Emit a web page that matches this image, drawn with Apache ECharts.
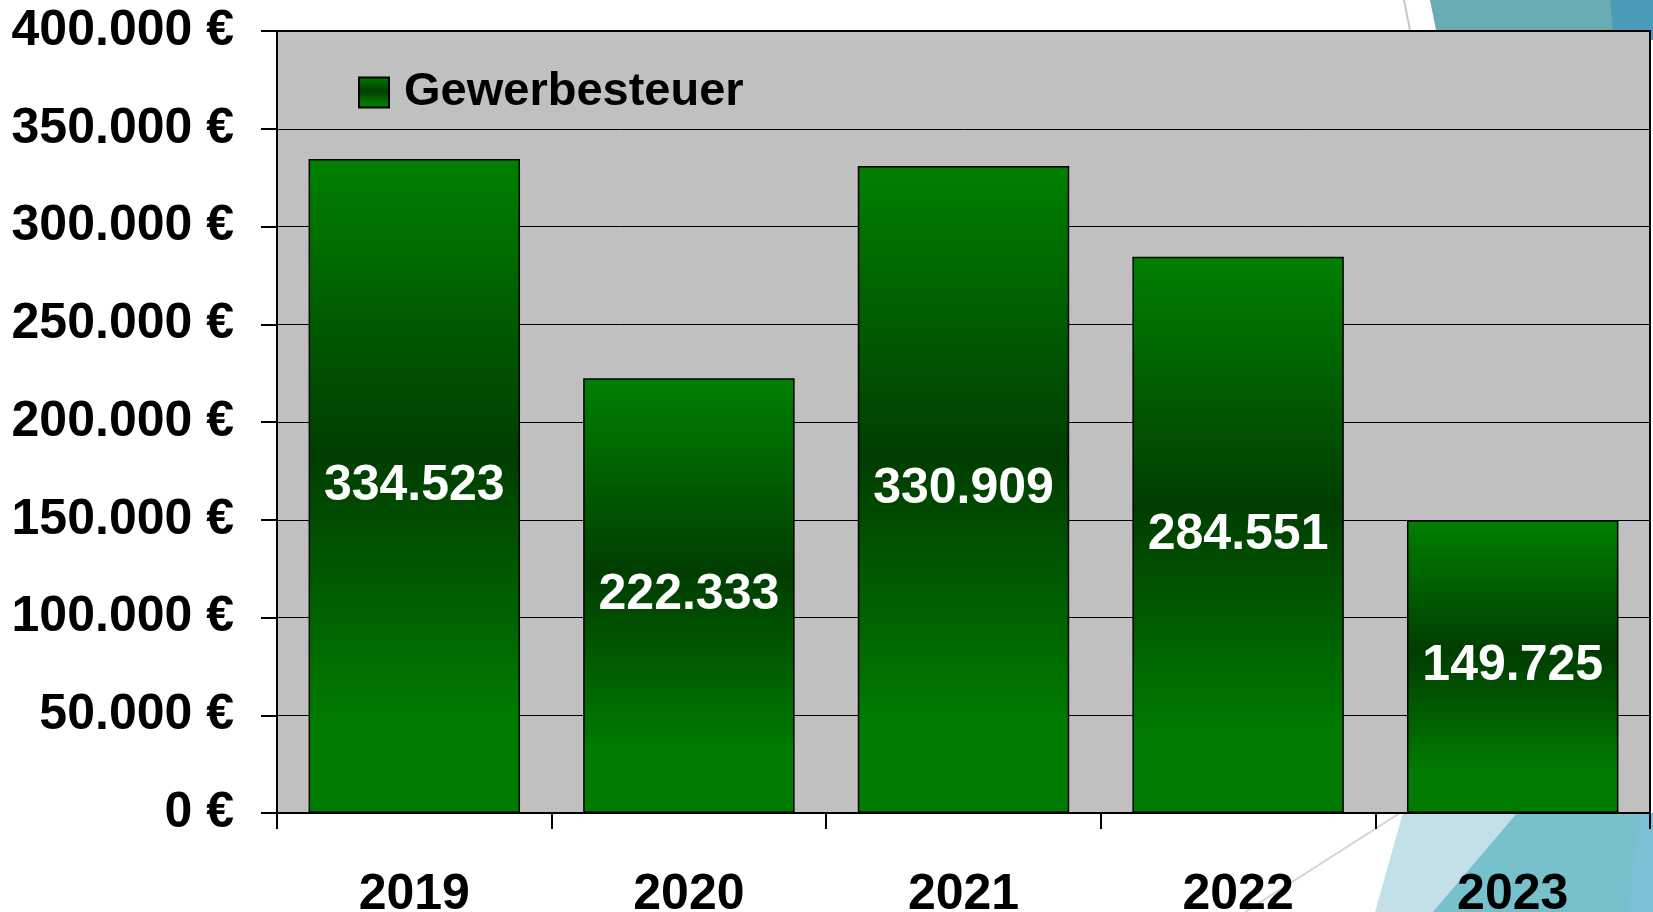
<!DOCTYPE html>
<html>
<head>
<meta charset="utf-8">
<script src="https://cdn.jsdelivr.net/npm/echarts@6/dist/echarts.min.js"></script>
<style>
  html, body { margin: 0; padding: 0; background: #ffffff; }
  #chart { width: 1653px; height: 912px; }
</style>
</head>
<body>
<div id="chart"></div>
<script>
var years = ['2019', '2020', '2021', '2022', '2023'];
var gewerbesteuer = [334523, 222333, 330909, 284551, 149725];
var seriesName = 'Gewerbesteuer';

// Tausenderpunkt wie im Original (deutsches Format)
function fmt(v) {
    return String(Math.round(v)).replace(/\B(?=(\d{3})+(?!\d))/g, '.');
}

var FONT = '"Liberation Sans", Arial, sans-serif';

var barGradient = new echarts.graphic.LinearGradient(0, 0, 0, 1, [
    { offset: 0, color: '#008000' },
    { offset: 0.45, color: '#003d00' },
    { offset: 0.85, color: '#007a00' },
    { offset: 1, color: '#007a00' }
]);

var myChart = echarts.init(document.getElementById('chart'));

var option = {
    backgroundColor: '#ffffff',
    animation: false,
    // Deko-Flächen der Folie (rechts oben / rechts unten)
    graphic: [
        { type: 'polygon', z: -10, shape: { points: [[1430, 0], [1653, 0], [1653, 40], [1438, 40]] }, style: { fill: '#6aacb4' } },
        { type: 'polygon', z: -9, shape: { points: [[1610, 0], [1653, 0], [1653, 40], [1614, 40]] }, style: { fill: '#4a9bb8' } },
        { type: 'line', z: -9, shape: { x1: 1404, y1: 0, x2: 1412, y2: 40 }, style: { stroke: '#c8c8c8', lineWidth: 2 } },
        { type: 'polygon', z: -10, shape: { points: [[1403, 813], [1653, 813], [1653, 912], [1375, 912]] }, style: { fill: '#c3dfe8' } },
        { type: 'polygon', z: -9, shape: { points: [[1517, 813], [1653, 813], [1653, 912], [1433, 912]] }, style: { fill: '#76c1cc' } },
        { type: 'polygon', z: -8, shape: { points: [[1640, 813], [1653, 813], [1653, 912], [1628, 912]] }, style: { fill: '#7cc0d8' } },
        { type: 'line', z: -8, shape: { x1: 1400, y1: 813, x2: 1245, y2: 912 }, style: { stroke: '#d4d4d4', lineWidth: 2 } }
    ],
    grid: {
        left: 277,
        right: 3,
        top: 31,
        bottom: 99,
        outerBoundsMode: 'none',
        containLabel: false,
        show: true,
        backgroundColor: '#c0c0c0',
        borderColor: '#000000',
        borderWidth: 2
    },
    legend: {
        data: [seriesName],
        left: 353,
        top: 64,
        itemWidth: 30,
        itemHeight: 30,
        icon: 'rect',
        textStyle: {
            fontFamily: FONT,
            fontWeight: 'bold',
            fontSize: 47,
            color: '#000000',
            padding: [0, 0, 0, 10]
        }
    },
    xAxis: {
        type: 'category',
        data: years,
        axisLine: { lineStyle: { color: '#000000', width: 2 } },
        axisTick: { show: true, length: 16, lineStyle: { color: '#000000', width: 2 } },
        axisLabel: {
            margin: 57,
            color: '#000000',
            fontFamily: FONT,
            fontWeight: 'bold',
            fontSize: 50
        }
    },
    yAxis: {
        type: 'value',
        min: 0,
        max: 400000,
        interval: 50000,
        axisLine: { show: true, lineStyle: { color: '#000000', width: 2 } },
        axisTick: { show: true, length: 16, lineStyle: { color: '#000000', width: 2 } },
        splitLine: { show: true, lineStyle: { color: '#000000', width: 1 } },
        axisLabel: {
            margin: 43,
            color: '#000000',
            fontFamily: FONT,
            fontWeight: 'bold',
            fontSize: 50,
            formatter: function (v) { return fmt(v) + ' €'; }
        }
    },
    series: [
        {
            name: seriesName,
            type: 'bar',
            data: gewerbesteuer,
            barCategoryGap: '23%',
            itemStyle: {
                color: barGradient,
                borderColor: '#000000',
                borderWidth: 1.5
            },
            label: {
                show: true,
                position: 'inside',
                color: '#ffffff',
                fontFamily: FONT,
                fontWeight: 'bold',
                fontSize: 50,
                formatter: function (p) { return fmt(p.value); }
            }
        }
    ]
};

myChart.setOption(option);
</script>
</body>
</html>
